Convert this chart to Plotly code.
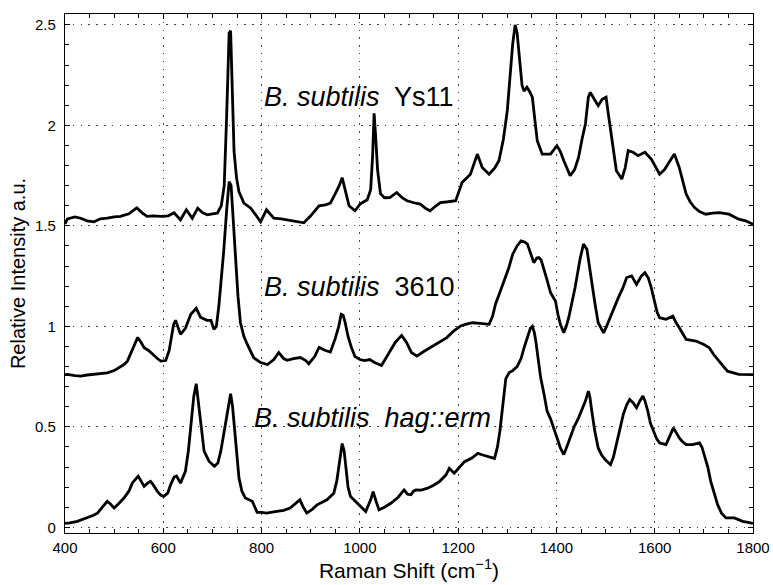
import plotly.graph_objects as go

# Raman spectra of three B. subtilis strains (offset vertically)
ys11_shift = [400, 405, 420, 432, 445, 459, 472, 486, 500, 513, 530, 546, 557, 567, 580, 595,
              610, 622, 635, 647, 659, 670, 680, 690, 700, 710, 718, 724, 729, 734, 737, 740,
              744, 749, 754, 764, 778, 788, 798, 810, 825, 840, 852, 870, 886, 900, 917, 930,
              940, 950, 958, 964, 970, 978, 990, 1001, 1015, 1022, 1026, 1029, 1032, 1036, 1042,
              1050, 1061, 1075, 1086, 1096, 1110, 1123, 1135, 1143, 1155, 1164, 1180, 1195, 1208,
              1225, 1239, 1249, 1263, 1275, 1283, 1292, 1300, 1306, 1311, 1316, 1320, 1325, 1330,
              1334, 1340, 1345, 1351, 1356, 1361, 1371, 1388, 1401, 1408, 1415, 1428, 1437, 1445,
              1452, 1459, 1465, 1469, 1477, 1485, 1493, 1501, 1506, 1512, 1518, 1522, 1533, 1540,
              1546, 1556, 1566, 1580, 1593, 1603, 1610, 1620, 1627, 1640, 1650, 1657, 1664, 1672,
              1681, 1692, 1704, 1718, 1731, 1751, 1771, 1785, 1800]
ys11_intensity = [1.51, 1.535, 1.545, 1.538, 1.525, 1.52, 1.535, 1.538, 1.545, 1.547, 1.56, 1.59,
                  1.565, 1.547, 1.55, 1.547, 1.55, 1.565, 1.53, 1.58, 1.538, 1.588, 1.565, 1.555,
                  1.56, 1.563, 1.60, 1.70, 2.05, 2.46, 2.47, 2.2, 1.87, 1.74, 1.67, 1.613, 1.588,
                  1.555, 1.52, 1.58, 1.538, 1.535, 1.53, 1.525, 1.515, 1.55, 1.60, 1.605, 1.613,
                  1.66, 1.70, 1.74, 1.68, 1.60, 1.575, 1.61, 1.63, 1.68, 1.85, 2.06, 1.95, 1.78,
                  1.66, 1.64, 1.641, 1.666, 1.64, 1.625, 1.615, 1.608, 1.585, 1.575, 1.60, 1.616,
                  1.62, 1.625, 1.716, 1.757, 1.857, 1.79, 1.757, 1.79, 1.824, 1.93, 2.073, 2.25,
                  2.405, 2.50, 2.46, 2.33, 2.20, 2.17, 2.19, 2.17, 2.14, 2.03, 1.924, 1.857, 1.857,
                  1.899, 1.87, 1.824, 1.749, 1.78, 1.84, 1.93, 2.007, 2.14, 2.164, 2.13, 2.098,
                  2.13, 2.14, 2.05, 1.94, 1.83, 1.774, 1.733, 1.79, 1.874, 1.866, 1.849, 1.866,
                  1.832, 1.79, 1.757, 1.78, 1.807, 1.857, 1.79, 1.72, 1.658, 1.62, 1.591, 1.57,
                  1.558, 1.563, 1.566, 1.558, 1.533, 1.525, 1.508]

wt3610_shift = [400, 405, 420, 432, 445, 459, 472, 486, 500, 510, 520, 527, 533, 539, 548, 555,
                561, 570, 578, 588, 595, 605, 612, 617, 621, 625, 635, 645, 656, 667, 676, 689,
                697, 703, 708, 713, 718, 723, 729, 734, 738, 742, 747, 752, 757, 764, 771, 784,
                798, 812, 825, 835, 845, 852, 865, 879, 890, 896, 908, 917, 930, 940, 950, 957,
                962, 966, 970, 976, 983, 990, 1000, 1010, 1020, 1030, 1044, 1052, 1061, 1072, 1085,
                1095, 1105, 1116, 1130, 1143, 1160, 1177, 1190, 1205, 1215, 1229, 1245, 1263, 1270,
                1276, 1285, 1294, 1303, 1311, 1320, 1328, 1335, 1341, 1348, 1354, 1360, 1364, 1369,
                1374, 1381, 1388, 1398, 1403, 1408, 1415, 1420, 1425, 1432, 1438, 1448, 1455, 1462,
                1467, 1472, 1478, 1485, 1496, 1502, 1509, 1518, 1526, 1535, 1543, 1553, 1563, 1573,
                1580, 1587, 1593, 1600, 1605, 1610, 1623, 1637, 1643, 1650, 1664, 1684, 1700, 1711,
                1720, 1731, 1748, 1771, 1800]
wt3610_intensity = [0.76, 0.761, 0.755, 0.752, 0.758, 0.761, 0.765, 0.769, 0.78, 0.794, 0.81,
                    0.827, 0.86, 0.902, 0.945, 0.92, 0.894, 0.88, 0.86, 0.84, 0.827, 0.83, 0.88,
                    0.96, 1.01, 1.03, 0.96, 0.99, 1.06, 1.09, 1.045, 1.03, 1.03, 0.985, 1.0, 1.10,
                    1.22, 1.375, 1.58, 1.72, 1.70, 1.55, 1.326, 1.15, 1.018, 0.95, 0.91, 0.844,
                    0.82, 0.81, 0.835, 0.87, 0.84, 0.831, 0.84, 0.845, 0.83, 0.814, 0.85, 0.895,
                    0.88, 0.872, 0.94, 1.00, 1.06, 1.055, 1.02, 0.95, 0.894, 0.85, 0.835, 0.83,
                    0.835, 0.82, 0.805, 0.84, 0.877, 0.92, 0.955, 0.92, 0.87, 0.852, 0.875, 0.894,
                    0.915, 0.944, 0.975, 1.002, 1.01, 1.018, 1.015, 1.01, 1.05, 1.11, 1.17, 1.226,
                    1.29, 1.359, 1.40, 1.425, 1.42, 1.409, 1.36, 1.317, 1.34, 1.342, 1.33, 1.292,
                    1.23, 1.168, 1.126, 1.06, 1.01, 0.968, 1.0, 1.043, 1.12, 1.193, 1.334, 1.409,
                    1.384, 1.30, 1.209, 1.12, 1.018, 0.968, 1.0, 1.043, 1.09, 1.143, 1.19, 1.243,
                    1.251, 1.209, 1.251, 1.267, 1.24, 1.193, 1.12, 1.07, 1.043, 1.035, 1.051, 1.02,
                    0.993, 0.935, 0.927, 0.91, 0.894, 0.86, 0.827, 0.777, 0.761, 0.76]

hag_shift = [400, 410, 425, 445, 458, 466, 476, 486, 493, 500, 510, 520, 530, 537, 549, 555, 561,
             568, 574, 580, 588, 595, 601, 609, 615, 622, 627, 635, 645, 651, 656, 662, 667, 673,
             678, 683, 693, 704, 711, 717, 722, 727, 732, 737, 741, 744, 749, 754, 760, 767, 781,
             786, 791, 800, 810, 831, 845, 858, 870, 878, 885, 892, 903, 913, 933, 947, 953, 957,
             961, 964, 968, 971, 976, 981, 990, 998, 1012, 1022, 1027, 1033, 1039, 1050, 1063,
             1078, 1090, 1097, 1104, 1109, 1114, 1125, 1138, 1150, 1162, 1175, 1182, 1192, 1200,
             1213, 1228, 1240, 1250, 1261, 1274, 1280, 1285, 1291, 1297, 1304, 1311, 1320, 1328,
             1335, 1341, 1347, 1351, 1355, 1358, 1363, 1368, 1375, 1381, 1388, 1395, 1402, 1408,
             1415, 1421, 1428, 1436, 1445, 1452, 1459, 1465, 1468, 1472, 1478, 1485, 1492, 1499,
             1510, 1516, 1522, 1530, 1536, 1543, 1549, 1556, 1563, 1570, 1576, 1580, 1586, 1591,
             1597, 1604, 1610, 1617, 1623, 1630, 1638, 1644, 1650, 1657, 1664, 1677, 1691, 1696,
             1701, 1708, 1714, 1721, 1728, 1736, 1745, 1762, 1779, 1790, 1800]
hag_intensity = [0.02, 0.022, 0.03, 0.047, 0.06, 0.071, 0.10, 0.13, 0.115, 0.096, 0.12, 0.146,
                 0.18, 0.221, 0.255, 0.23, 0.204, 0.22, 0.229, 0.21, 0.179, 0.16, 0.154, 0.17,
                 0.213, 0.25, 0.255, 0.22, 0.279, 0.38, 0.495, 0.65, 0.715, 0.578, 0.46, 0.379,
                 0.329, 0.304, 0.32, 0.379, 0.45, 0.528, 0.60, 0.665, 0.60, 0.512, 0.36, 0.246,
                 0.18, 0.146, 0.13, 0.10, 0.075, 0.075, 0.071, 0.079, 0.085, 0.096, 0.12, 0.137,
                 0.1, 0.071, 0.09, 0.112, 0.137, 0.17, 0.23, 0.302, 0.39, 0.417, 0.38, 0.302, 0.2,
                 0.153, 0.13, 0.112, 0.079, 0.137, 0.178, 0.13, 0.087, 0.10, 0.12, 0.15, 0.186,
                 0.165, 0.162, 0.18, 0.186, 0.185, 0.195, 0.21, 0.228, 0.26, 0.294, 0.269, 0.29,
                 0.327, 0.345, 0.368, 0.36, 0.351, 0.343, 0.40, 0.48, 0.61, 0.74, 0.77, 0.78, 0.80,
                 0.84, 0.9, 0.94, 0.99, 1.0, 0.97, 0.927, 0.84, 0.744, 0.66, 0.578, 0.54, 0.495,
                 0.44, 0.395, 0.362, 0.40, 0.445, 0.50, 0.545, 0.59, 0.628, 0.678, 0.65, 0.578,
                 0.48, 0.395, 0.36, 0.337, 0.312, 0.35, 0.412, 0.49, 0.561, 0.61, 0.636, 0.62,
                 0.595, 0.63, 0.653, 0.63, 0.578, 0.52, 0.478, 0.44, 0.42, 0.415, 0.412, 0.45,
                 0.495, 0.47, 0.445, 0.425, 0.412, 0.412, 0.42, 0.40, 0.362, 0.30, 0.229, 0.17,
                 0.113, 0.07, 0.047, 0.047, 0.03, 0.025, 0.02]

strain_labels = ["<i>B. subtilis</i>\u00a0 Ys11",
                 "<i>B. subtilis</i>\u00a0 3610",
                 "<i>B. subtilis</i>\u00a0 <i>hag::erm</i>"]
label_anchor_x = [800, 800, 781]
label_anchor_y = [2.142, 1.197, 0.542]

FONT = "Liberation Sans, Arial, Helvetica, sans-serif"

fig = go.Figure()
for sx, sy in [(ys11_shift, ys11_intensity),
               (wt3610_shift, wt3610_intensity),
               (hag_shift, hag_intensity)]:
    fig.add_trace(go.Scatter(x=sx, y=sy, mode="lines",
                             line=dict(color="black", width=2.8),
                             showlegend=False, hoverinfo="skip"))

for txt, ax_x, ax_y in zip(strain_labels, label_anchor_x, label_anchor_y):
    fig.add_annotation(x=ax_x, y=ax_y, xref="x", yref="y", text=txt,
                       showarrow=False, xanchor="left", yanchor="middle",
                       font=dict(family=FONT, size=27, color="black"))

axis_common = dict(
    showline=True, linecolor="black", linewidth=1.2, mirror="allticks",
    ticks="inside", ticklen=5, tickwidth=1, tickcolor="black",
    showgrid=True, gridcolor="#444444", gridwidth=1.2, griddash="1.5px,6.3px",
    zeroline=False,
    tickfont=dict(family=FONT, size=15, color="black"),
)

fig.update_xaxes(range=[400, 1800], tick0=400, dtick=200,
                 minor=dict(dtick=50, ticks="inside", ticklen=4, tickcolor="black", showgrid=False),
                 title=dict(text="Raman Shift (cm<sup>\u22121</sup>)",
                            font=dict(family=FONT, size=21, color="black"), standoff=8),
                 ticklabelstandoff=1,
                 **axis_common)
fig.update_yaxes(range=[-0.028, 2.554], tick0=0, dtick=0.5,
                 minor=dict(dtick=0.1, ticks="inside", ticklen=4, tickcolor="black", showgrid=False),
                 title=dict(text="Relative Intensity a.u.",
                            font=dict(family=FONT, size=20, color="black"), standoff=4),
                 ticklabelstandoff=5,
                 **axis_common)

fig.update_layout(width=773, height=585,
                  margin=dict(l=65, r=20, t=14, b=52, autoexpand=False),
                  plot_bgcolor="white", paper_bgcolor="white",
                  font=dict(family=FONT, color="black"))

fig.write_html("out.html")
